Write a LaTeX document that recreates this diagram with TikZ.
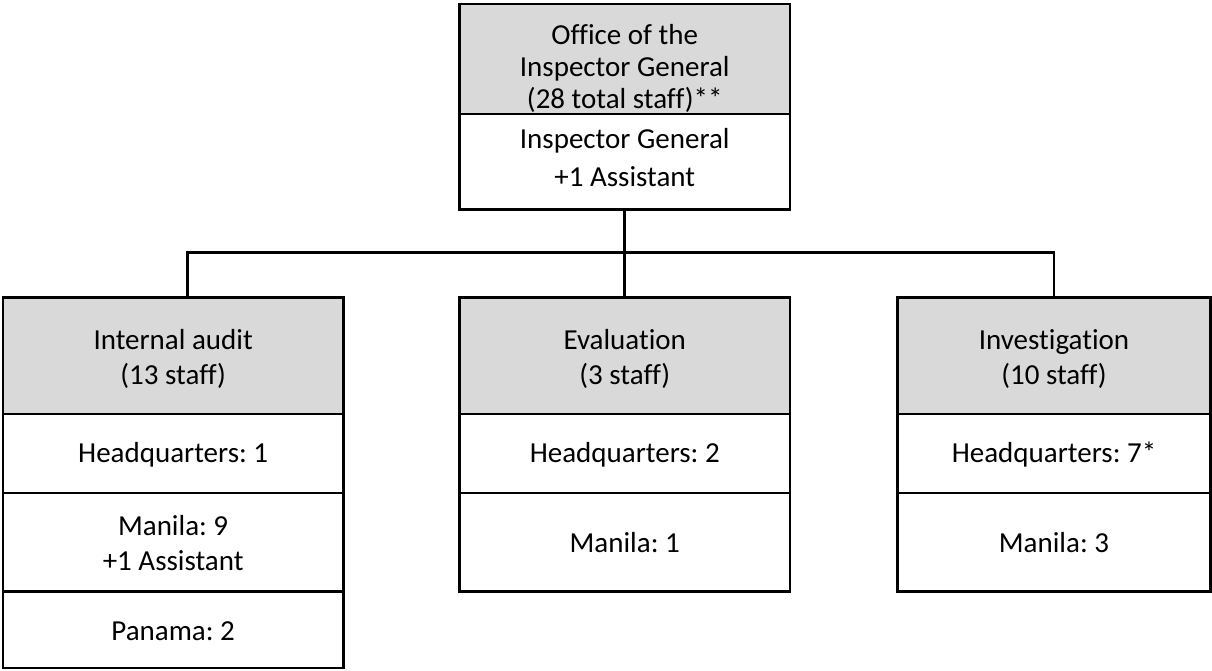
\documentclass[tikz,border=0pt]{standalone}
\usepackage{fontspec}
\setmainfont{Carlito}[Ligatures=NoCommon]
\usetikzlibrary{calc}
\definecolor{hdr}{HTML}{D9D9D9}
\begin{document}
\frenchspacing
\begin{tikzpicture}[x=1pt,y=-1pt,
  cell/.style={draw=black, line width=2.7pt, rectangle, outer sep=0pt, inner sep=0pt},
  hdrcell/.style={cell, fill=hdr},
  wcell/.style={cell, fill=white},
  txt/.style={align=center, inner sep=0pt, font=\fontsize{29}{35}\selectfont},
  conn/.style={draw=black, line width=2.7pt}]
\useasboundingbox (0,0) rectangle (1212,670);
% top box
\node[hdrcell, minimum width=330.5pt, minimum height=110pt] (ogh) at (624.75,59) {};
\node[wcell, minimum width=330.5pt, minimum height=95.7pt] (ogw) at (624.75,161.85) {};
\node[txt, font=\fontsize{29}{32}\selectfont] (ogh-t) at ($(ogh.center)+(0,9.5)$) {Office of the\\Inspector General\\(28 total staff)**};
\node[txt, font=\fontsize{29}{38}\selectfont] (ogw-t) at ($(ogw.center)+(0,-4.3)$) {Inspector General\\+1 Assistant};
% internal audit
\node[hdrcell, minimum width=340.3pt, minimum height=116.7pt] (ia) at (173.15,355.65) {};
\node[wcell, minimum width=340.3pt, minimum height=79pt] (iahq) at (173.15,453.5) {};
\node[wcell, minimum width=340.3pt, minimum height=98.5pt] (iam) at (173.15,542.25) {};
\node[wcell, minimum width=340.3pt, minimum height=76.5pt] (iap) at (173.15,629.75) {};
\node[txt] (ia-t) at ($(ia.center)+(0,3)$) {Internal audit\\(13 staff)};
\node[txt] (iahq-t) at ($(iahq.center)+(0,1.5)$) {Headquarters: 1};
\node[txt] (iam-t) at ($(iam.center)+(0,1)$) {Manila: 9\\+1 Assistant};
\node[txt] (iap-t) at ($(iap.center)+(0,1)$) {Panama: 2};
% evaluation
\node[hdrcell, minimum width=330.5pt, minimum height=116.7pt] (ev) at (624.75,355.65) {};
\node[wcell, minimum width=330.5pt, minimum height=79pt] (evhq) at (624.75,453.5) {};
\node[wcell, minimum width=330.5pt, minimum height=98.5pt] (evm) at (624.75,542.25) {};
\node[txt] (ev-t) at ($(ev.center)+(0,3)$) {Evaluation\\(3 staff)};
\node[txt] (evhq-t) at ($(evhq.center)+(0,1.5)$) {Headquarters: 2};
\node[txt] (evm-t) at ($(evm.center)+(0,0)$) {Manila: 1};
% investigation
\node[hdrcell, minimum width=313pt, minimum height=116.7pt] (inv) at (1054,355.65) {};
\node[wcell, minimum width=313pt, minimum height=79pt] (invhq) at (1054,453.5) {};
\node[wcell, minimum width=313pt, minimum height=98.5pt] (invm) at (1054,542.25) {};
\node[txt] (inv-t) at ($(inv.center)+(0,3)$) {Investigation\\(10 staff)};
\node[txt] (invhq-t) at ($(invhq.center)+(0,1.5)$) {Headquarters: 7*};
\node[txt] (invm-t) at ($(invm.center)+(0,0)$) {Manila: 3};
% connectors
\coordinate (bus) at (624.75,252.5);
\coordinate (lbus) at (187.3,252.5);
\draw[conn] (ogw.south) -- (bus);
\draw[conn] (ia.north -| lbus) -- (lbus) -- (lbus -| inv.north) -- (inv.north);
\draw[conn] (bus) -- (ev.north);
\end{tikzpicture}
\end{document}
